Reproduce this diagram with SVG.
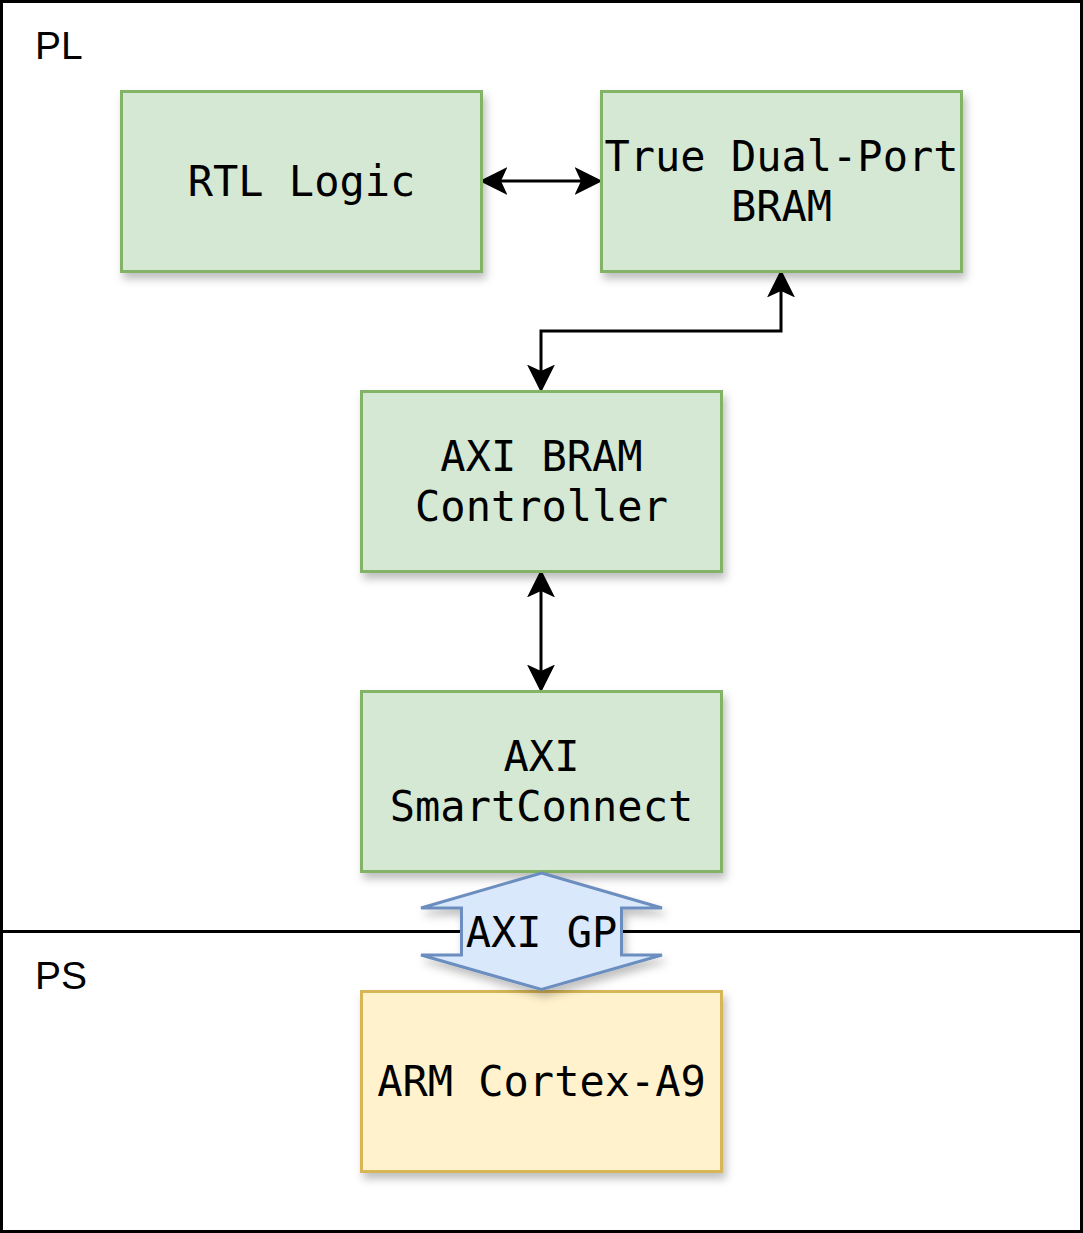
<svg xmlns="http://www.w3.org/2000/svg" width="1083" height="1233" viewBox="0 0 1083 1233">
<style>
.frame{fill:none;stroke:#000;stroke-width:3}
.zone{font-family:"Liberation Sans",Arial,sans-serif;font-size:39px;fill:#000}
.g{fill:#d5e8d4;stroke:#82b366;stroke-width:3}
.y{fill:#fff2cc;stroke:#d6b656;stroke-width:3}
.b{fill:#dae8fc;stroke:#6c8ebf;stroke-width:3;stroke-linejoin:miter}
.t{font-family:"DejaVu Sans Mono","Liberation Mono",monospace;font-size:42px;fill:#000;text-anchor:middle}
.c{fill:none;stroke:#000;stroke-width:3}
</style>
<defs>
<filter id="sh" x="-10%" y="-10%" width="130%" height="130%">
<feDropShadow dx="3" dy="6" stdDeviation="4" flood-color="#000" flood-opacity="0.25"/>
</filter>
<marker id="ar" markerUnits="userSpaceOnUse" markerWidth="28" markerHeight="28" viewBox="0 0 26 26" refX="6" refY="13" orient="auto-start-reverse">
<path d="M0,0 L26,13 L0,26 L6,13 Z" fill="#000"/>
</marker>
</defs>
<rect width="1083" height="1233" fill="#fff"/>
<g id="pl">
<rect class="frame" x="1.5" y="1.5" width="1080" height="930"/>
<text class="zone" x="35" y="59">PL</text>
</g>
<g id="ps">
<rect class="frame" x="1.5" y="931.5" width="1080" height="300"/>
<text class="zone" x="35" y="989">PS</text>
</g>
<g id="connectors">
<path class="c" d="M501,181 H581" marker-start="url(#ar)" marker-end="url(#ar)"/>
<path class="c" d="M781,291 V331 H541 V371" marker-start="url(#ar)" marker-end="url(#ar)"/>
<path class="c" d="M541,591 V671" marker-start="url(#ar)" marker-end="url(#ar)"/>
</g>
<g id="rtl-logic">
<rect class="g" x="121.5" y="91.5" width="360" height="180" filter="url(#sh)"/>
<text class="t" x="301.5" y="196">RTL Logic</text>
</g>
<g id="bram">
<rect class="g" x="601.5" y="91.5" width="360" height="180" filter="url(#sh)"/>
<text class="t" x="781.5" y="171">True Dual-Port</text>
<text class="t" x="781.5" y="221">BRAM</text>
</g>
<g id="axi-bram-ctrl">
<rect class="g" x="361.5" y="391.5" width="360" height="180" filter="url(#sh)"/>
<text class="t" x="541.5" y="471">AXI BRAM</text>
<text class="t" x="541.5" y="521">Controller</text>
</g>
<g id="smartconnect">
<rect class="g" x="361.5" y="691.5" width="360" height="180" filter="url(#sh)"/>
<text class="t" x="541.5" y="771">AXI</text>
<text class="t" x="541.5" y="821">SmartConnect</text>
</g>
<g id="arm">
<rect class="y" x="361.5" y="991.5" width="360" height="180" filter="url(#sh)"/>
<text class="t" x="541.5" y="1096">ARM Cortex-A9</text>
</g>
<g id="axi-gp">
<polygon class="b" points="541.5,873 662,908 621.5,908 621.5,955 662,955 541.5,989.5 421,955 461.5,955 461.5,908 421,908" filter="url(#sh)"/>
<text class="t" x="541.5" y="947">AXI GP</text>
</g>
</svg>
